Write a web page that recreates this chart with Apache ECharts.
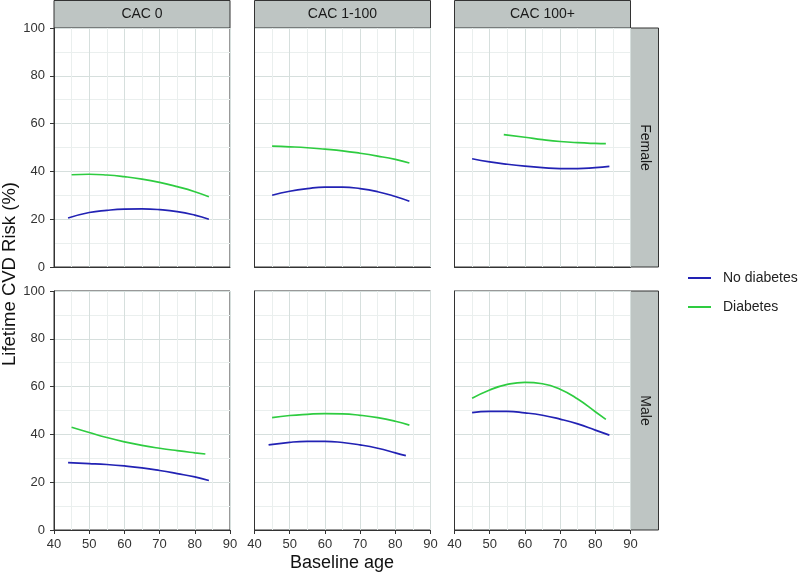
<!DOCTYPE html>
<html>
<head>
<meta charset="utf-8">
<script src="https://cdn.jsdelivr.net/npm/echarts@6/dist/echarts.min.js"></script>
<style>html,body{margin:0;padding:0;background:#fff}#c{width:800px;height:574px}</style>
</head>
<body>
<div id="c"></div>
<script>
// ---- data ----
const colLabels = ['CAC 0', 'CAC 1-100', 'CAC 100+'];
const rowLabels = ['Female', 'Male'];
const seriesNames = ['No diabetes', 'Diabetes'];
const xTicks = [40, 50, 60, 70, 80, 90];
const yTicks = [0, 20, 40, 60, 80, 100];

// Female
const fCac0NoAge = [44, 50, 55, 60, 65, 70, 75, 80, 84];
const fCac0NoVal = [20.5, 22.8, 23.7, 24.2, 24.3, 24.0, 23.2, 21.7, 20.0];
const fCac0DiAge = [45, 50, 55, 60, 65, 70, 75, 80, 84];
const fCac0DiVal = [38.6, 38.8, 38.5, 37.8, 36.8, 35.4, 33.6, 31.5, 29.4];

const fCac1NoAge = [45, 50, 55, 60, 65, 70, 75, 80, 84];
const fCac1NoVal = [30.0, 31.7, 32.8, 33.4, 33.4, 32.8, 31.5, 29.5, 27.5];
const fCac1DiAge = [45, 50, 55, 60, 65, 70, 75, 80, 84];
const fCac1DiVal = [50.6, 50.3, 49.9, 49.3, 48.6, 47.6, 46.4, 45.0, 43.5];

const fCac100NoAge = [45, 50, 55, 60, 65, 70, 75, 80, 84];
const fCac100NoVal = [45.3, 44.0, 43.0, 42.2, 41.6, 41.2, 41.2, 41.6, 42.1];
const fCac100DiAge = [54, 60, 65, 70, 75, 80, 83];
const fCac100DiVal = [55.4, 54.3, 53.3, 52.5, 52.0, 51.7, 51.6];

// Male
const mCac0NoAge = [44, 50, 55, 60, 65, 70, 75, 80, 84];
const mCac0NoVal = [28.2, 27.8, 27.4, 26.8, 26.0, 24.9, 23.6, 22.2, 20.7];
const mCac0DiAge = [45, 50, 55, 60, 65, 70, 75, 80, 83];
const mCac0DiVal = [43.0, 40.8, 38.7, 36.9, 35.4, 34.2, 33.2, 32.3, 31.8];

const mCac1NoAge = [44, 50, 55, 60, 65, 70, 75, 80, 83];
const mCac1NoVal = [35.6, 36.7, 37.1, 37.1, 36.6, 35.6, 34.2, 32.3, 31.1];
const mCac1DiAge = [45, 50, 55, 60, 65, 70, 75, 80, 84];
const mCac1DiVal = [47.0, 47.9, 48.4, 48.7, 48.6, 48.0, 47.0, 45.5, 43.9];

const mCac100NoAge = [45, 50, 55, 60, 65, 70, 75, 80, 84];
const mCac100NoVal = [49.1, 49.6, 49.6, 49.0, 48.0, 46.4, 44.4, 41.8, 39.7];
const mCac100DiAge = [45, 50, 55, 60, 65, 70, 75, 80, 83];
const mCac100DiVal = [55.1, 58.6, 60.9, 61.8, 61.2, 58.9, 54.8, 49.5, 46.3];

const panels = [
  [[fCac0NoAge, fCac0NoVal], [fCac0DiAge, fCac0DiVal]],
  [[fCac1NoAge, fCac1NoVal], [fCac1DiAge, fCac1DiVal]],
  [[fCac100NoAge, fCac100NoVal], [fCac100DiAge, fCac100DiVal]],
  [[mCac0NoAge, mCac0NoVal], [mCac0DiAge, mCac0DiVal]],
  [[mCac1NoAge, mCac1NoVal], [mCac1DiAge, mCac1DiVal]],
  [[mCac100NoAge, mCac100NoVal], [mCac100DiAge, mCac100DiVal]]
];

// ---- layout / style ----
const FONT = 'Liberation Sans, Arial, sans-serif';
const colors = ['#2222b4', '#2ecc40'];
const lefts = [54, 254.5, 454.5];
const W = 176;
const tops = [28, 291];
const H = 239;
const stripFill = '#bec5c3';
const border = '#333333';
const majorGrid = '#d6dfdd';
const minorGrid = '#eaefee';

const grids = [], xAxes = [], yAxes = [], series = [], graphics = [];

for (let r = 0; r < 2; r++) {
  for (let c = 0; c < 3; c++) {
    const i = r * 3 + c;
    grids.push({left: lefts[c], top: tops[r], width: W, height: H, show: true,
      backgroundColor: '#fff', borderColor: border, borderWidth: 1, containLabel: false});
    xAxes.push({type: 'value', gridIndex: i, min: xTicks[0], max: xTicks[xTicks.length - 1], interval: 10,
      axisLine: {show: true, onZero: false, lineStyle: {color: border, width: 1}},
      axisTick: {show: r === 1, length: 4, lineStyle: {color: border}},
      axisLabel: {show: r === 1, color: '#333', fontSize: 13, fontFamily: FONT, margin: 8},
      splitLine: {show: true, lineStyle: {color: majorGrid, width: 1}},
      minorTick: {show: false, splitNumber: 2, length: 0},
      minorSplitLine: {show: true, lineStyle: {color: minorGrid, width: 1}}
    });
    yAxes.push({type: 'value', gridIndex: i, min: yTicks[0], max: yTicks[yTicks.length - 1], interval: 20,
      axisLine: {show: true, lineStyle: {color: border, width: 1}},
      axisTick: {show: c === 0, length: 4, lineStyle: {color: border}},
      axisLabel: {show: c === 0, color: '#333', fontSize: 13, fontFamily: FONT, margin: 9},
      splitLine: {show: true, lineStyle: {color: majorGrid, width: 1}},
      minorTick: {show: false, splitNumber: 2, length: 0},
      minorSplitLine: {show: true, lineStyle: {color: minorGrid, width: 1}}
    });
    for (let s = 0; s < 2; s++) {
      const [ages, vals] = panels[i][s];
      series.push({type: 'line', name: seriesNames[s], xAxisIndex: i, yAxisIndex: i,
        data: ages.map((a, k) => [a, vals[k]]), smooth: 0.5, symbol: 'none',
        lineStyle: {color: colors[s], width: 1.7}, itemStyle: {color: colors[s]},
        z: 5, silent: true});
    }
  }
}

// column strips
for (let c = 0; c < 3; c++) {
  graphics.push({type: 'rect', shape: {x: lefts[c], y: 0.5, width: W, height: 27.5},
    style: {fill: stripFill, stroke: border, lineWidth: 1}});
  graphics.push({type: 'text', x: lefts[c] + W / 2, y: 14.5,
    style: {text: colLabels[c], font: '14px ' + FONT, fill: '#1a1a1a', textAlign: 'center', textVerticalAlign: 'middle'}});
}
// row strips
for (let r = 0; r < 2; r++) {
  const x0 = lefts[2] + W;
  graphics.push({type: 'rect', shape: {x: x0, y: tops[r], width: 28, height: H},
    style: {fill: stripFill, stroke: border, lineWidth: 1}});
  graphics.push({type: 'text', x: x0 + 14, y: tops[r] + H / 2, rotation: -Math.PI / 2,
    style: {text: rowLabels[r], font: '14px ' + FONT, fill: '#1a1a1a', textAlign: 'center', textVerticalAlign: 'middle'}});
}
// axis titles
graphics.push({type: 'text', x: 10, y: 274, rotation: Math.PI / 2,
  style: {text: 'Lifetime CVD Risk (%)', font: '18.5px ' + FONT, fill: '#111', textAlign: 'center', textVerticalAlign: 'middle'}});
graphics.push({type: 'text', x: 342, y: 563,
  style: {text: 'Baseline age', font: '18px ' + FONT, fill: '#111', textAlign: 'center', textVerticalAlign: 'middle'}});

const chart = echarts.init(document.getElementById('c'), null, {renderer: 'canvas'});
chart.setOption({
  animation: false,
  backgroundColor: '#fff',
  grid: grids, xAxis: xAxes, yAxis: yAxes, series: series,
  legend: {show: true, orient: 'vertical', left: 683, top: 266, itemWidth: 23, itemHeight: 2, itemGap: 15,
    icon: 'rect', data: seriesNames, selectedMode: false,
    textStyle: {fontSize: 14, fontFamily: FONT, color: '#222', padding: [0, 0, 0, 7]}},
  graphic: graphics
});
</script>
</body>
</html>
